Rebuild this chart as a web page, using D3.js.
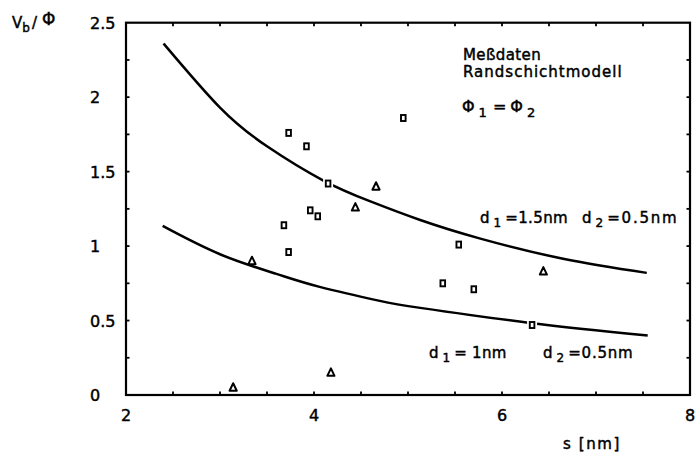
<!DOCTYPE html>
<html>
<head>
<meta charset="utf-8">
<script src="https://cdn.jsdelivr.net/npm/d3@7"></script>
<style>
  html, body { margin: 0; padding: 0; background: #fff; }
  svg { display: block; }
  text { font-family: "DejaVu Sans", sans-serif; fill: #000; stroke: #000; stroke-width: 0.45px; }
</style>
</head>
<body>
<svg id="chart" width="695" height="454"></svg>
<script>
// Measured data (squares) and comparison points (triangles): s [nm], Vb/Φ
const squareS = [3.73, 3.92, 4.15, 3.96, 4.04, 3.68, 3.73, 4.95, 5.54, 5.37, 5.70, 6.32];
const squareV = [1.76, 1.67, 1.42, 1.24, 1.20, 1.14, 0.96, 1.86, 1.01, 0.75, 0.71, 0.47];
const triangleS = [4.66, 4.44, 3.34, 6.44, 3.14, 4.18];
const triangleV = [1.40, 1.26, 0.90, 0.83, 0.05, 0.15];

// Boundary-layer model curves
const upperS = [2.40, 3.00, 3.50, 4.10, 4.60, 5.13, 5.77, 6.65, 7.54];
const upperV = [2.36, 1.93, 1.67, 1.44, 1.30, 1.175, 1.05, 0.915, 0.82];
const lowerS = [2.39, 3.00, 3.60, 4.06, 4.70, 5.13, 6.30, 7.55];
const lowerV = [1.135, 0.945, 0.813, 0.726, 0.632, 0.585, 0.484, 0.40];

const xTickLabels = [2, 4, 6, 8];
const yTickLabels = ["0", "0.5", "1", "1.5", "2", "2.5"];
const yTickValues = [0, 0.5, 1, 1.5, 2, 2.5];

const svg = d3.select("#chart");
const x = d3.scaleLinear().domain([2, 8]).range([126, 690]);
const y = d3.scaleLinear().domain([0, 2.5]).range([395, 22.7]);

const frame = svg.append("g");
// Plot frame
frame.append("rect")
  .attr("x", x(2)).attr("y", y(2.5))
  .attr("width", x(8) - x(2)).attr("height", y(0) - y(2.5))
  .attr("fill", "none").attr("stroke", "#000").attr("stroke-width", 2.2);

// Inward minor ticks on all four sides
const xt = d3.range(2.5, 8, 0.5);
const yt = d3.range(0.25, 2.5, 0.25);
const tickLen = 3.5;
frame.selectAll(".xb").data(xt).join("line")
  .attr("x1", d => x(d)).attr("x2", d => x(d))
  .attr("y1", y(0)).attr("y2", y(0) - tickLen)
  .attr("stroke", "#000").attr("stroke-width", 1.8);
frame.selectAll(".xtp").data(xt).join("line")
  .attr("x1", d => x(d)).attr("x2", d => x(d))
  .attr("y1", y(2.5)).attr("y2", y(2.5) + tickLen)
  .attr("stroke", "#000").attr("stroke-width", 1.8);
frame.selectAll(".yl").data(yt).join("line")
  .attr("x1", x(2)).attr("x2", x(2) + tickLen)
  .attr("y1", d => y(d)).attr("y2", d => y(d))
  .attr("stroke", "#000").attr("stroke-width", 1.8);
frame.selectAll(".yr").data(yt).join("line")
  .attr("x1", x(8)).attr("x2", x(8) - tickLen)
  .attr("y1", d => y(d)).attr("y2", d => y(d))
  .attr("stroke", "#000").attr("stroke-width", 1.8);

// Tick labels
svg.append("g").selectAll("text").data(xTickLabels).join("text")
  .attr("x", d => x(d)).attr("y", 421)
  .attr("text-anchor", "middle").attr("font-size", 16)
  .text(d => d);
svg.append("g").selectAll("text").data(yTickValues).join("text")
  .attr("x", 90).attr("y", d => y(d) + 6)
  .attr("text-anchor", "start").attr("font-size", 16)
  .text((d, i) => yTickLabels[i]);

// Axis titles
svg.append("text").attr("x", 563).attr("y", 449).attr("font-size", 15)
  .attr("letter-spacing", 1.6).text("s [nm]");
const yt1 = svg.append("text").attr("x", 12).attr("y", 28).attr("font-size", 15);
yt1.append("tspan").text("V");
yt1.append("tspan").attr("font-size", 12).attr("dy", 4).text("b");
yt1.append("tspan").attr("dy", -4).attr("dx", 2).text("/");
yt1.append("tspan").attr("font-size", 17).attr("dx", 5).attr("dy", -3).text("Φ");

// Model curves
const line = d3.line().x(d => x(d[0])).y(d => y(d[1])).curve(d3.curveNatural);
svg.append("path").datum(d3.zip(upperS, upperV)).attr("d", line)
  .attr("fill", "none").attr("stroke", "#000").attr("stroke-width", 2.5);
svg.append("path").datum(d3.zip(lowerS, lowerV)).attr("d", line)
  .attr("fill", "none").attr("stroke", "#000").attr("stroke-width", 2.5);

// Markers (white backing leaves a small gap in the curves)
const sq = svg.append("g");
const sqData = d3.zip(squareS, squareV);
sq.selectAll(".bg").data(sqData).join("rect")
  .attr("x", d => x(d[0]) - 5).attr("y", d => y(d[1]) - 6)
  .attr("width", 10).attr("height", 12).attr("fill", "#fff");
sq.selectAll(".m").data(sqData).join("rect")
  .attr("x", d => x(d[0]) - 2.3).attr("y", d => y(d[1]) - 3)
  .attr("width", 4.6).attr("height", 6)
  .attr("fill", "#fff").attr("stroke", "#000").attr("stroke-width", 1.9);

const tri = svg.append("g");
const triData = d3.zip(triangleS, triangleV);
const triPath = d => {
  const cx = x(d[0]), cy = y(d[1]);
  return `M${cx},${cy - 4.3}L${cx + 3.6},${cy + 3.2}L${cx - 3.6},${cy + 3.2}Z`;
};
tri.selectAll(".m").data(triData).join("path")
  .attr("d", triPath)
  .attr("fill", "#fff").attr("stroke", "#000").attr("stroke-width", 2)
  .attr("stroke-linejoin", "round");

// Legend text
svg.append("text").attr("x", 463).attr("y", 59.5).attr("font-size", 15)
  .attr("letter-spacing", 0.4).text("Meßdaten");
svg.append("text").attr("x", 463).attr("y", 77).attr("font-size", 15)
  .attr("letter-spacing", 1).text("Randschichtmodell");
const phi = svg.append("text").attr("x", 462).attr("y", 112).attr("font-size", 16);
phi.append("tspan").text("Φ");
phi.append("tspan").attr("font-size", 13).attr("dx", 4).attr("dy", 5).text("1");
phi.append("tspan").attr("dx", 6).attr("dy", -5).text("=");
phi.append("tspan").attr("dx", 4).text("Φ");
phi.append("tspan").attr("font-size", 13).attr("dx", 4).attr("dy", 5).text("2");

// Curve labels
function paramLabel(x0, yBase, sub, rest, spacing) {
  const t = svg.append("text").attr("x", x0).attr("y", yBase).attr("font-size", 15);
  t.append("tspan").text("d");
  t.append("tspan").attr("font-size", 12).attr("dx", 4).attr("dy", 4).text(sub);
  t.append("tspan").attr("dx", 4).attr("dy", -4)
    .attr("letter-spacing", spacing).text(rest);
}
paramLabel(480, 223, "1", "=1.5nm", 0.4);
paramLabel(582, 223, "2", "=0.5nm", 1.8);
paramLabel(429, 358, "1", "= 1nm", 0.3);
paramLabel(543, 358, "2", "=0.5nm", 0.8);
</script>
</body>
</html>
